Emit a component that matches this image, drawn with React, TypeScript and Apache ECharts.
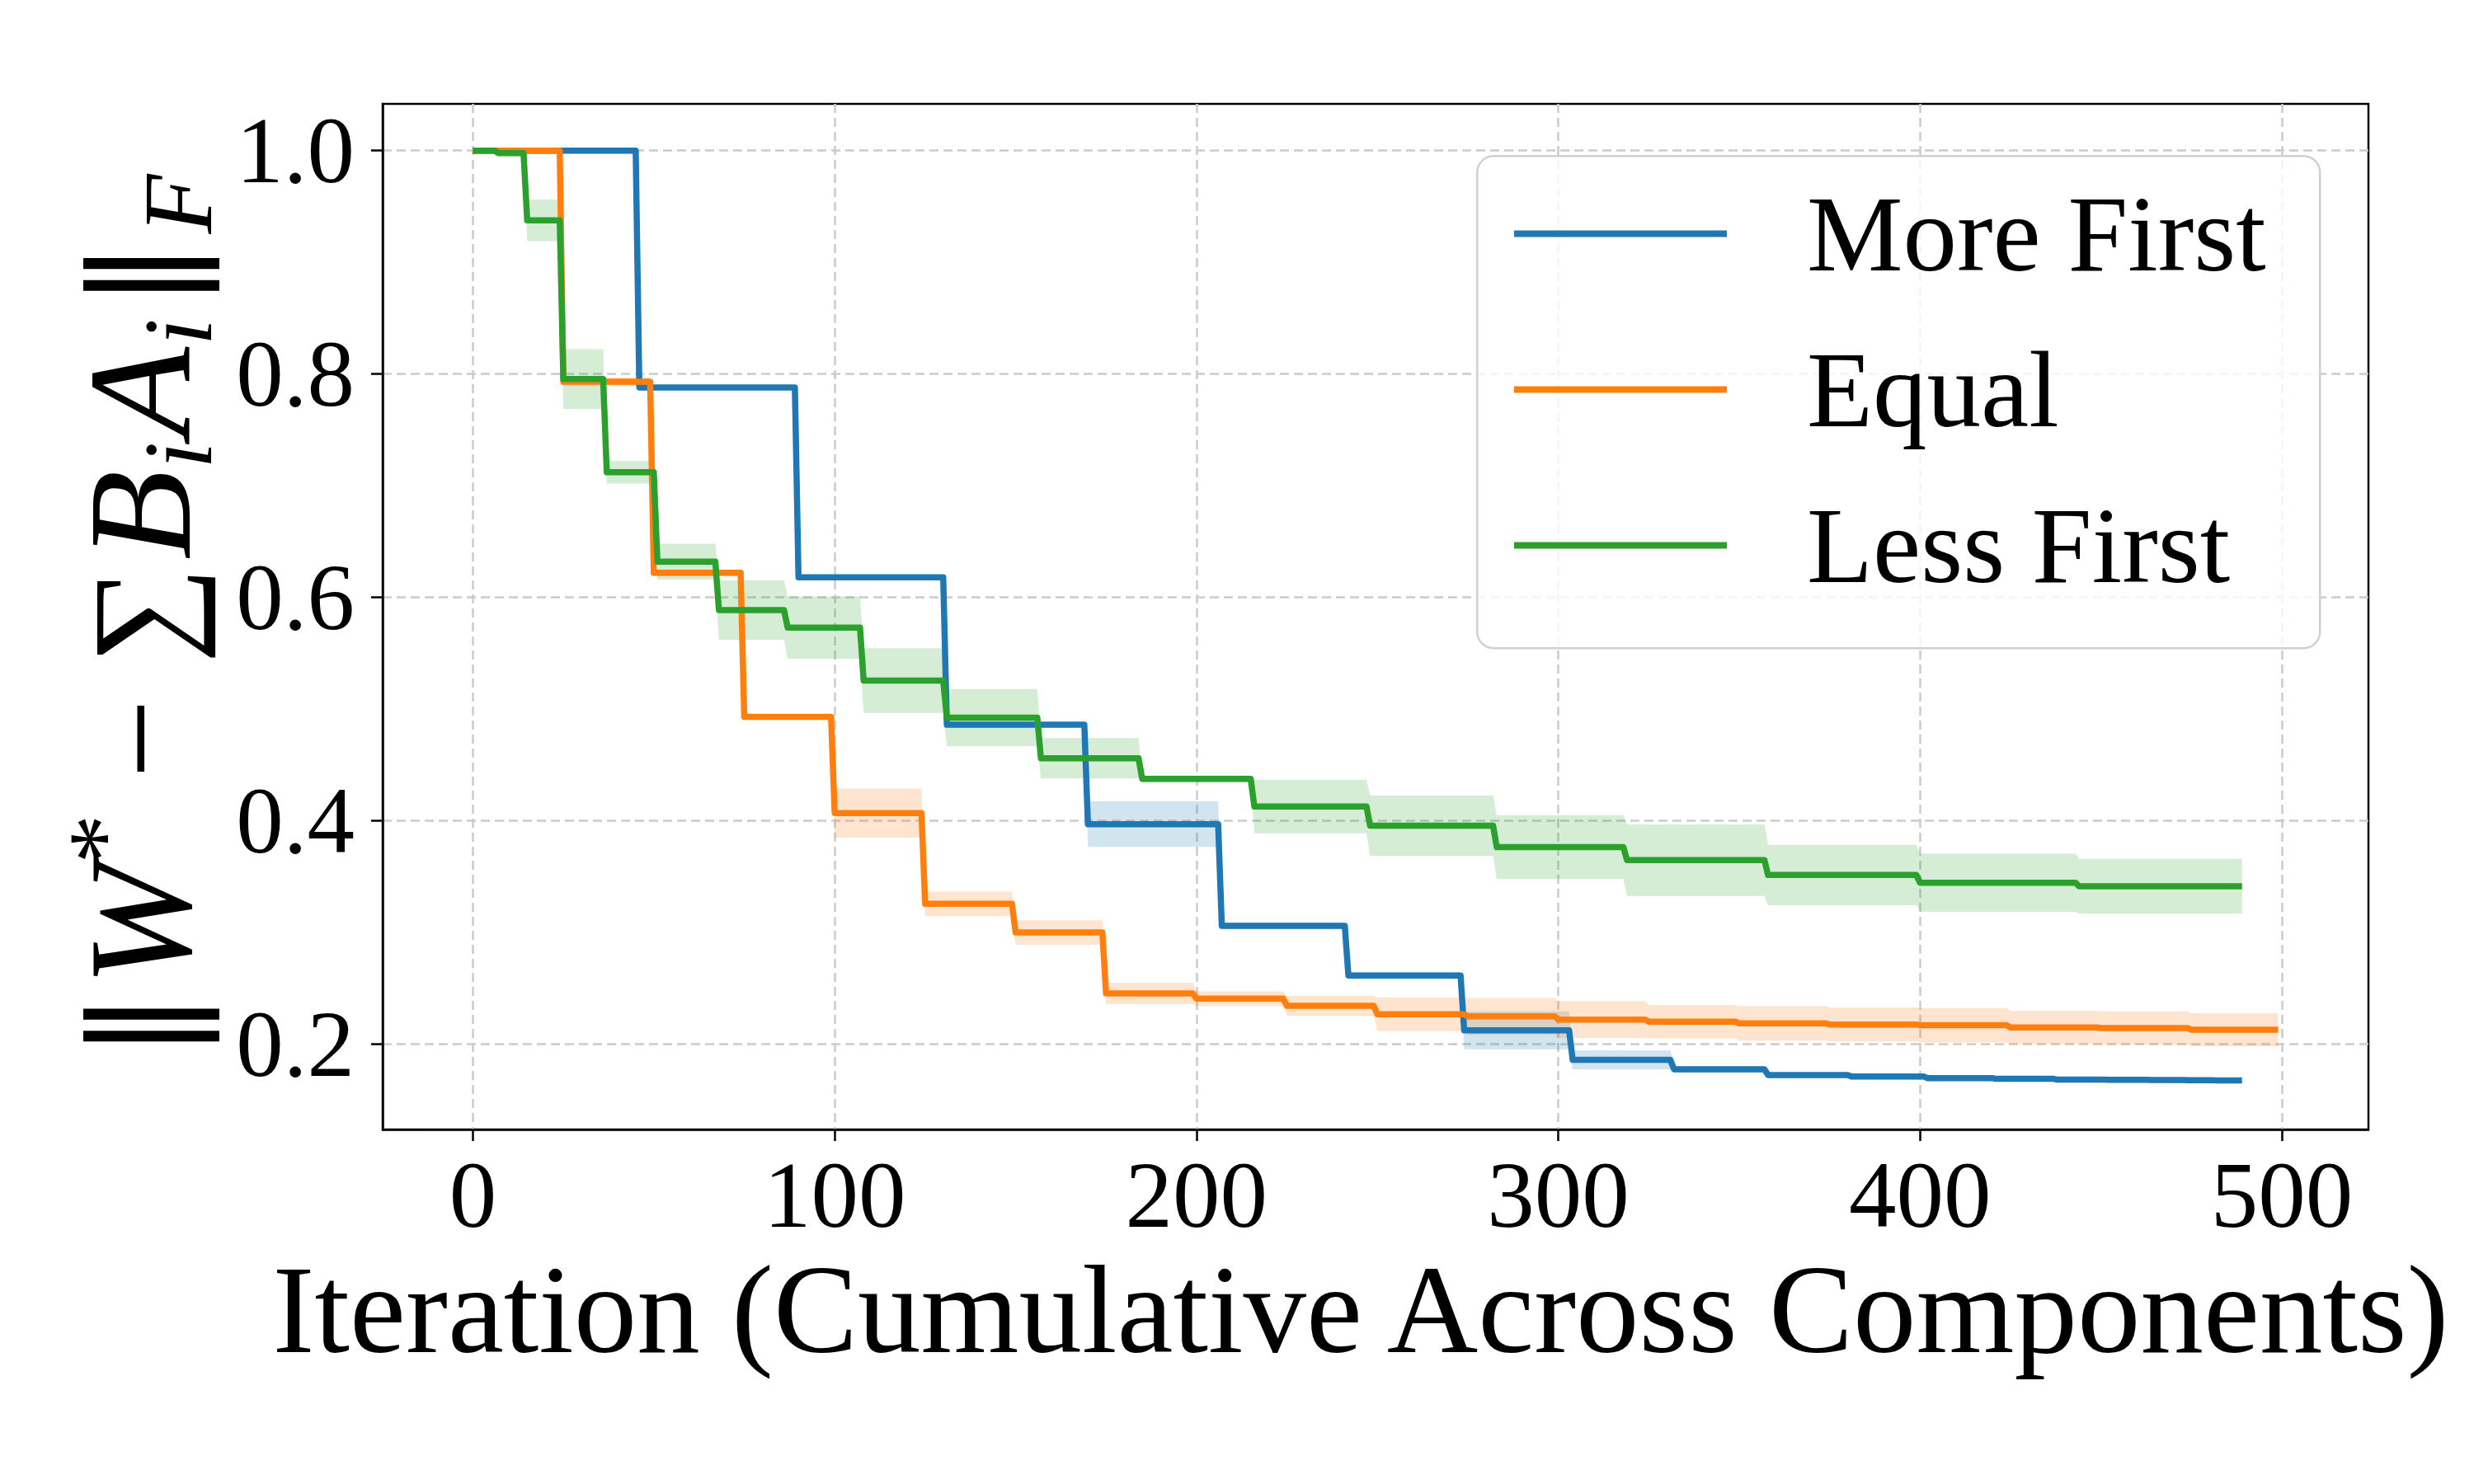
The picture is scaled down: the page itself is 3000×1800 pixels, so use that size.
import React, { useEffect, useRef } from "react";
import * as echarts from "echarts";

// ---- tick labels ----
const xTicks = [0, 100, 200, 300, 400, 500];
const yTicks = [0.2, 0.4, 0.6, 0.8, 1.0];

// ---- More First (blue) ----
const moreFirstStarts = [0, 46, 90, 131, 170, 207, 242, 274, 304, 332, 358, 381, 402, 421, 438, 452, 464, 474, 482];
const moreFirstMean = [1.0, 0.788, 0.618, 0.486, 0.397, 0.306, 0.2615, 0.2125, 0.186, 0.1776, 0.1724, 0.1712, 0.1697, 0.169, 0.1683, 0.1681, 0.1679, 0.1678, 0.1677];
const moreFirstStd = [0, 0.002, 0.002, 0.002, 0.0204, 0.003, 0.003, 0.017, 0.0085, 0.003, 0.002, 0.002, 0.002, 0.002, 0.002, 0.002, 0.002, 0.002, 0.002];
const moreFirstEnd = 489;

// ---- Equal (orange) ----
const equalStarts = [0, 25, 50, 75, 100, 125, 150, 175, 200, 225, 250, 275, 300, 325, 350, 375, 400, 425, 450, 475];
const equalMean = [1.0, 0.793, 0.622, 0.493, 0.407, 0.3257, 0.3, 0.2455, 0.2408, 0.2344, 0.2268, 0.225, 0.2221, 0.2202, 0.2187, 0.2177, 0.217, 0.215, 0.2145, 0.213];
const equalStd = [0, 0.004, 0.003, 0.002, 0.022, 0.011, 0.011, 0.0095, 0.0065, 0.009, 0.015, 0.0165, 0.0165, 0.015, 0.0155, 0.0153, 0.0155, 0.015, 0.015, 0.0148];
const equalEnd = 499;

// ---- Less First (green) ----
const lessFirstStarts = [0, 7, 15, 25, 37, 51, 68, 87, 108, 131, 157, 185, 216, 248, 283, 319, 358, 400, 444];
const lessFirstMean = [1.0, 0.9977, 0.9376, 0.7955, 0.712, 0.632, 0.5887, 0.573, 0.5255, 0.4924, 0.456, 0.4376, 0.4128, 0.3956, 0.3764, 0.3648, 0.3515, 0.3446, 0.3414];
const lessFirstStd = [0, 0.001, 0.0186, 0.0267, 0.01, 0.016, 0.0267, 0.0278, 0.029, 0.0255, 0.018, 0.003, 0.024, 0.027, 0.0286, 0.032, 0.027, 0.026, 0.0246];
const lessFirstEnd = 489;

const methodNames = ["More First", "Equal", "Less First"];
const methodColors = ["#1f77b4", "#ff7f0e", "#2ca02c"];
const bandFills = ["rgba(31,119,180,0.2)", "rgba(255,127,14,0.2)", "rgba(44,160,44,0.2)"];

const FONT = '"Liberation Serif", "DejaVu Serif", serif';

function segmentPoints(starts: number[], values: number[], end: number): number[][] {
  const pts: number[][] = [];
  for (let i = 0; i < starts.length; i++) {
    const s = starts[i];
    const e = i + 1 < starts.length ? starts[i + 1] - 1 : end;
    pts.push([s, values[i]]);
    pts.push([e, values[i]]);
  }
  return pts;
}

function bandRows(starts: number[], mean: number[], std: number[], end: number): number[][] {
  const lo = segmentPoints(starts, mean.map((m, i) => m - std[i]), end);
  const hi = segmentPoints(starts, mean.map((m, i) => m + std[i]), end);
  return lo.map((p, i) => [p[0], p[1], hi[i][1]]);
}

export default function App() {
  const ref = useRef<HTMLDivElement>(null);

  useEffect(() => {
    const chart = echarts.init(ref.current!, null, { renderer: "svg" });

    const methods = [
      { starts: moreFirstStarts, mean: moreFirstMean, std: moreFirstStd, end: moreFirstEnd },
      { starts: equalStarts, mean: equalMean, std: equalStd, end: equalEnd },
      { starts: lessFirstStarts, mean: lessFirstMean, std: lessFirstStd, end: lessFirstEnd },
    ];

    const series: any[] = [];
    methods.forEach((m, k) => {
      series.push({
        name: methodNames[k],
        type: "line",
        data: segmentPoints(m.starts, m.mean, m.end),
        symbol: "none",
        showSymbol: false,
        lineStyle: { color: methodColors[k], width: 7.5, join: "round" },
        itemStyle: { color: methodColors[k] },
        z: 2,
      });
      const rows = bandRows(m.starts, m.mean, m.std, m.end);
      series.push({
        name: methodNames[k] + " band",
        type: "custom",
        data: rows,
        encode: { x: 0, y: [1, 2] },
        silent: true,
        z: 2,
        renderItem: (params: any, api: any) => {
          if (params.dataIndex !== 0) return null;
          const upper = rows.map((r) => api.coord([r[0], r[2]]));
          const lower = rows.map((r) => api.coord([r[0], r[1]])).reverse();
          return {
            type: "polygon",
            shape: { points: upper.concat(lower) },
            style: { fill: bandFills[k], stroke: "none" },
            silent: true,
          };
        },
      });
    });

    const gridLine = { show: true, lineStyle: { color: "#cbcbcb", width: 2.5, type: [11, 6] } };

    const option: any = {
      animation: false,
      backgroundColor: "#ffffff",
      grid: {
        left: 464,
        right: 128,
        top: 126,
        bottom: 430,
        containLabel: false,
        outerBoundsMode: "none",
        show: true,
        borderColor: "#000000",
        borderWidth: 2.5,
        backgroundColor: "transparent",
      },
      legend: {
        data: methodNames,
        orient: "vertical",
        left: 1836,
        top: 218,
        padding: 0,
        itemGap: 58,
        itemWidth: 258,
        itemHeight: 8,
        icon: "rect",
        z: 6,
        textStyle: {
          fontFamily: FONT,
          fontSize: 131,
          lineHeight: 128,
          color: "#000000",
          padding: [0, 0, 0, 92],
        },
      },
      graphic: [
        {
          type: "rect",
          left: 1790,
          top: 188,
          z: 5,
          shape: { width: 1022, height: 597, r: 20 },
          style: { fill: "rgba(255,255,255,0.8)", stroke: "#d0d0d0", lineWidth: 2.5 },
        },
      ],
      xAxis: {
        type: "value",
        min: -24.95,
        max: 523.95,
        axisLine: { show: true, onZero: false, lineStyle: { color: "#000", width: 2.5 } },
        axisTick: { show: true, inside: false, length: 14, lineStyle: { color: "#000", width: 2.5 }, customValues: xTicks },
        axisLabel: {
          customValues: xTicks,
          fontFamily: FONT,
          fontSize: 115,
          color: "#000",
          margin: 22,
          showMinLabel: true,
          showMaxLabel: true,
        },
        splitLine: gridLine,
        name: "Iteration (Cumulative Across Components)",
        nameLocation: "middle",
        nameGap: 100,
        nameTextStyle: { fontFamily: FONT, fontSize: 153, color: "#000", padding: [0, 36, 0, 0] },
      },
      yAxis: {
        type: "value",
        min: 0.1237,
        max: 1.0418,
        axisLine: { show: true, onZero: false, lineStyle: { color: "#000", width: 2.5 } },
        axisTick: { show: true, inside: false, length: 14, lineStyle: { color: "#000", width: 2.5 }, customValues: yTicks },
        axisLabel: {
          customValues: yTicks,
          fontFamily: FONT,
          fontSize: 115,
          color: "#000",
          margin: 34,
          formatter: (v: number) => v.toFixed(1),
        },
        splitLine: gridLine,
        name: "{b|‖}{w|W}{sup|*}{n| − }{sum|∑}{w|B}{sub|i}{w|A}{sub|i}{b|‖}{sub|F}",
        nameLocation: "middle",
        nameRotate: 90,
        nameGap: 186,
        nameTextStyle: {
          fontFamily: FONT,
          color: "#000",
          rich: {
            b: { fontFamily: '"DejaVu Serif", serif', fontSize: 165, lineHeight: 210, color: "#000", padding: [0, 6, 0, 6] },
            w: { fontFamily: FONT, fontStyle: "italic", fontSize: 178, lineHeight: 210, color: "#000" },
            n: { fontFamily: FONT, fontSize: 172, lineHeight: 210, color: "#000" },
            sum: { fontFamily: FONT, fontSize: 165, lineHeight: 210, color: "#000", padding: [0, 8, 0, 0] },
            sup: { fontFamily: FONT, fontSize: 120, lineHeight: 140, verticalAlign: "top", color: "#000" },
            sub: { fontFamily: FONT, fontStyle: "italic", fontSize: 118, lineHeight: 120, verticalAlign: "bottom", color: "#000", padding: [0, 6, 0, 2] },
          },
        },
      },
      series,
    };

    chart.setOption(option);
    return () => chart.dispose();
  }, []);

  return (
    <div
      ref={ref}
      style={{ position: "absolute", left: 0, top: 0, width: 3000, height: 1800, background: "#ffffff" }}
    />
  );
}
